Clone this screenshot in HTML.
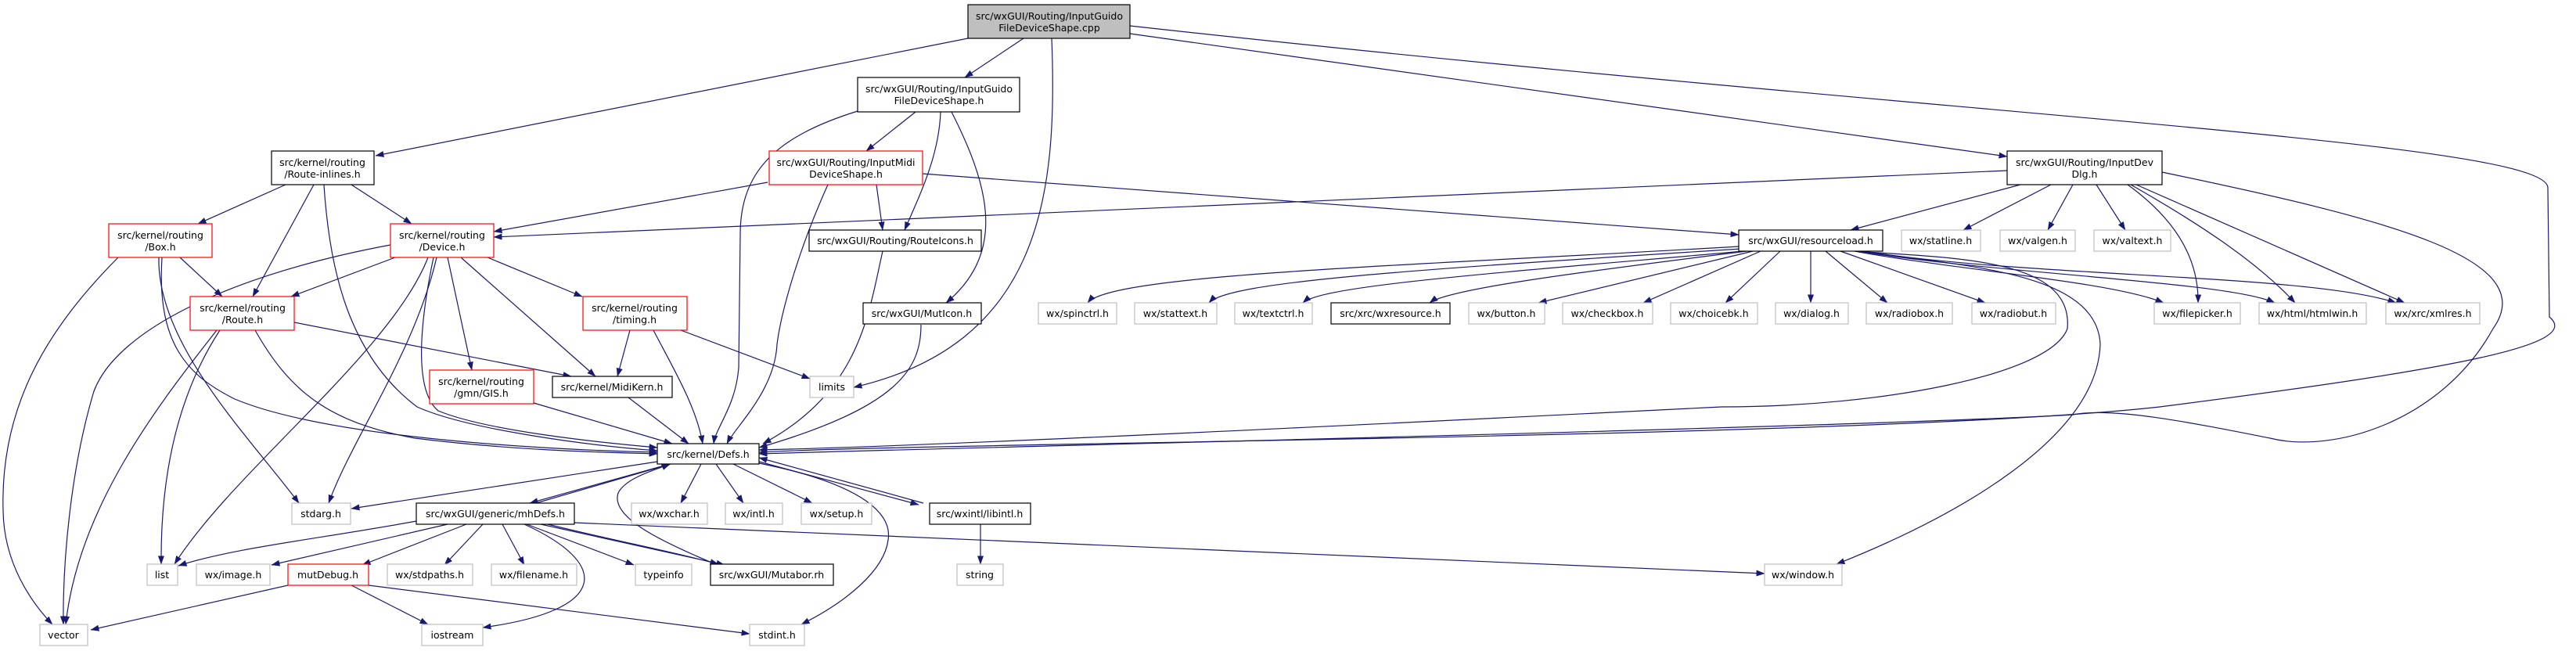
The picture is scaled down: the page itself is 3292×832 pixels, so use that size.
<!DOCTYPE html>
<html><head><meta charset="utf-8"><style>
html,body{margin:0;padding:0;background:#fff;}
svg{display:block;}
text{font-family:"DejaVu Sans","Liberation Sans",sans-serif;font-size:12.5px;fill:#000;text-anchor:middle;}
.e{fill:none;stroke:#191970;stroke-width:1.2;marker-end:url(#a);}
.n{fill:#fff;stroke:#000;stroke-width:1.2;}
.r{fill:#fff;stroke:#ff0000;stroke-width:1.2;}
.g{fill:#fff;stroke:#bfbfbf;stroke-width:1.2;}
</style></head><body>
<svg width="3292" height="832" viewBox="0 0 3292 832" xmlns="http://www.w3.org/2000/svg">
<defs><marker id="a" markerWidth="11" markerHeight="8" refX="10.5" refY="4" orient="auto" markerUnits="userSpaceOnUse"><path d="M0,0 L11,4 L0,8 z" fill="#191970"/></marker></defs>
<g>
<path class="e" d="M1237,49 L480,199"/>
<path class="e" d="M1308,49 L1233,99"/>
<path class="e" d="M1344,49 C1352,250 1330,440 1091,495"/>
<path class="e" d="M1444,43 L2565,200"/>
<path class="e" d="M1444,33 C2500,150 3256,180 3256,240 L3258,405 C3300,440 3150,470 2760,520 C2400,560 1200,565 970,578"/>
<path class="e" d="M1170,143 L1107,193"/>
<path class="e" d="M1202,143 C1200,200 1175,250 1156,294"/>
<path class="e" d="M1216,143 C1260,230 1290,320 1209,387"/>
<path class="e" d="M1096,142 C990,175 946,220 946,300 L944,470 C940,520 915,545 912,567"/>
<path class="e" d="M981,233 L631,296"/>
<path class="e" d="M1120,236 L1128,294"/>
<path class="e" d="M1179,222 L2222,300"/>
<path class="e" d="M1058,236 C1020,320 998,400 993,440 C990,500 940,545 929,567"/>
<path class="e" d="M365,236 L253,286"/>
<path class="e" d="M401,236 L323,379"/>
<path class="e" d="M449,236 L526,286"/>
<path class="e" d="M414,236 C420,330 440,450 533,520 C600,550 760,570 840,576"/>
<path class="e" d="M151,329 C60,420 0,520 4,653 C5,720 40,770 67,798"/>
<path class="e" d="M230,329 L284,379"/>
<path class="e" d="M203,329 C200,440 320,560 382,643"/>
<path class="e" d="M207,329 C200,440 240,480 300,510 C420,560 700,575 840,578"/>
<path class="e" d="M499,313 C300,350 150,420 120,500 C90,600 80,720 81,798"/>
<path class="e" d="M505,329 L372,379"/>
<path class="e" d="M623,329 L744,379"/>
<path class="e" d="M572,329 L603,473"/>
<path class="e" d="M589,329 L761,481"/>
<path class="e" d="M547,329 C500,450 300,600 223,721"/>
<path class="e" d="M558,329 C530,450 450,560 420,643"/>
<path class="e" d="M554,329 C535,420 530,500 560,525 C620,550 760,565 840,572"/>
<path class="e" d="M277,422 C200,520 100,650 84,798"/>
<path class="e" d="M281,422 C230,500 205,600 206,721"/>
<path class="e" d="M376,412 L730,481"/>
<path class="e" d="M326,422 C370,500 420,540 530,560 C650,575 760,578 840,580"/>
<path class="e" d="M805,422 L789,481"/>
<path class="e" d="M870,422 L1035,484"/>
<path class="e" d="M835,422 C860,470 890,520 898,567"/>
<path class="e" d="M682,515 L859,567"/>
<path class="e" d="M803,508 L880,567"/>
<path class="e" d="M1128,321 C1110,400 1100,500 975,567"/>
<path class="e" d="M1177,415 C1177,470 1150,520 970,572"/>
<path class="e" d="M840,590 L449,650"/>
<path class="e" d="M849,595 L677,643"/>
<path class="e" d="M685,643 L857,593"/>
<path class="e" d="M896,593 L870,643"/>
<path class="e" d="M915,593 L950,643"/>
<path class="e" d="M937,593 L1038,643"/>
<path class="e" d="M970,590 L1174,645"/>
<path class="e" d="M1180,643 L970,585"/>
<path class="e" d="M970,592 C1110,620 1140,660 1135,690 C1130,730 1080,770 1024,798"/>
<path class="e" d="M912,720 C840,690 780,660 790,630 C800,610 840,600 856,593"/>
<path class="e" d="M700,670 C780,690 860,705 918,721"/>
<path class="e" d="M532,666 C400,690 300,700 228,723"/>
<path class="e" d="M572,670 L347,722"/>
<path class="e" d="M596,670 L463,722"/>
<path class="e" d="M617,670 L568,722"/>
<path class="e" d="M642,670 L670,722"/>
<path class="e" d="M673,670 L810,722"/>
<path class="e" d="M691,670 L926,722"/>
<path class="e" d="M670,670 C780,720 780,780 617,802"/>
<path class="e" d="M734,668 L2255,733"/>
<path class="e" d="M368,748 L116,805"/>
<path class="e" d="M449,748 L547,798"/>
<path class="e" d="M471,748 L958,810"/>
<path class="e" d="M1253,670 L1253,721"/>
<path class="e" d="M2222,315 C1800,340 1420,350 1390,387"/>
<path class="e" d="M2225,318 C1800,345 1570,360 1545,387"/>
<path class="e" d="M2228,321 C1900,350 1690,365 1665,387"/>
<path class="e" d="M2232,321 C2000,350 1850,370 1827,387"/>
<path class="e" d="M2240,321 L1966,387"/>
<path class="e" d="M2250,321 L2100,387"/>
<path class="e" d="M2275,321 L2205,387"/>
<path class="e" d="M2314,321 L2314,387"/>
<path class="e" d="M2333,321 L2412,387"/>
<path class="e" d="M2352,321 L2537,387"/>
<path class="e" d="M2370,321 C2500,345 2700,360 2765,387"/>
<path class="e" d="M2375,321 C2550,350 2850,360 2907,387"/>
<path class="e" d="M2380,321 C2600,355 2950,350 3062,387"/>
<path class="e" d="M2380,321 C2500,340 2680,345 2684,440 C2680,560 2500,660 2347,721"/>
<path class="e" d="M2370,321 C2500,330 2650,330 2642,420 C2620,480 2400,520 2200,520 C1800,540 1200,570 970,575"/>
<path class="e" d="M2763,220 C3050,280 3250,330 3186,420 C3120,540 2980,580 2901,560 C2800,540 2700,520 2649,530 C2400,545 1300,570 970,580"/>
<path class="e" d="M2565,218 L631,303"/>
<path class="e" d="M2582,236 L2365,294"/>
<path class="e" d="M2621,236 L2509,294"/>
<path class="e" d="M2649,236 L2617,294"/>
<path class="e" d="M2679,236 L2716,294"/>
<path class="e" d="M2719,236 C2780,280 2810,330 2809,387"/>
<path class="e" d="M2723,236 C2800,280 2880,330 2933,387"/>
<path class="e" d="M2730,236 L3073,387"/>
</g>
<g>
<rect x="1237" y="6" width="207" height="43" fill="#bfbfbf" stroke="#000" stroke-width="1.2"/>
<text x="1341" y="25">src/wxGUI/Routing/InputGuido</text><text x="1341" y="40">FileDeviceShape.cpp</text>

<rect class="n" x="1096" y="99" width="207" height="44"/>
<text x="1200" y="118">src/wxGUI/Routing/InputGuido</text><text x="1200" y="133">FileDeviceShape.h</text>

<rect class="n" x="347" y="193" width="131" height="43"/>
<text x="412" y="212">src/kernel/routing</text><text x="412" y="227">/Route-inlines.h</text>

<rect class="r" x="983" y="193" width="196" height="43"/>
<text x="1081" y="212">src/wxGUI/Routing/InputMidi</text><text x="1081" y="227">DeviceShape.h</text>

<rect class="n" x="2565" y="193" width="198" height="43"/>
<text x="2664" y="212">src/wxGUI/Routing/InputDev</text><text x="2664" y="227">Dlg.h</text>

<rect class="r" x="139" y="286" width="132" height="43"/>
<text x="205" y="305">src/kernel/routing</text><text x="205" y="320">/Box.h</text>

<rect class="r" x="499" y="286" width="132" height="43"/>
<text x="565" y="305">src/kernel/routing</text><text x="565" y="320">/Device.h</text>

<rect class="n" x="1034" y="294" width="220" height="27"/><text x="1144" y="312">src/wxGUI/Routing/RouteIcons.h</text>
<rect class="n" x="2222" y="294" width="184" height="27"/><text x="2314" y="312">src/wxGUI/resourceload.h</text>
<rect class="g" x="2430" y="294" width="101" height="27"/><text x="2480" y="312">wx/statline.h</text>
<rect class="g" x="2556" y="294" width="96" height="27"/><text x="2604" y="312">wx/valgen.h</text>
<rect class="g" x="2676" y="294" width="98" height="27"/><text x="2725" y="312">wx/valtext.h</text>

<rect class="r" x="243" y="379" width="133" height="43"/>
<text x="310" y="398">src/kernel/routing</text><text x="310" y="413">/Route.h</text>
<rect class="r" x="745" y="379" width="133" height="43"/>
<text x="811" y="398">src/kernel/routing</text><text x="811" y="413">/timing.h</text>

<rect class="n" x="1103" y="387" width="151" height="27"/><text x="1178" y="405">src/wxGUI/MutIcon.h</text>
<rect class="g" x="1327" y="387" width="100" height="27"/><text x="1377" y="405">wx/spinctrl.h</text>
<rect class="g" x="1450" y="387" width="105" height="27"/><text x="1502" y="405">wx/stattext.h</text>
<rect class="g" x="1578" y="387" width="99" height="27"/><text x="1627" y="405">wx/textctrl.h</text>
<rect class="n" x="1701" y="387" width="152" height="27"/><text x="1777" y="405">src/xrc/wxresource.h</text>
<rect class="g" x="1877" y="387" width="97" height="27"/><text x="1925" y="405">wx/button.h</text>
<rect class="g" x="1997" y="387" width="115" height="27"/><text x="2054" y="405">wx/checkbox.h</text>
<rect class="g" x="2135" y="387" width="111" height="27"/><text x="2190" y="405">wx/choicebk.h</text>
<rect class="g" x="2269" y="387" width="93" height="27"/><text x="2315" y="405">wx/dialog.h</text>
<rect class="g" x="2385" y="387" width="110" height="27"/><text x="2440" y="405">wx/radiobox.h</text>
<rect class="g" x="2520" y="387" width="107" height="27"/><text x="2573" y="405">wx/radiobut.h</text>
<rect class="g" x="2753" y="387" width="110" height="27"/><text x="2808" y="405">wx/filepicker.h</text>
<rect class="g" x="2887" y="387" width="137" height="27"/><text x="2955" y="405">wx/html/htmlwin.h</text>
<rect class="g" x="3049" y="387" width="120" height="27"/><text x="3109" y="405">wx/xrc/xmlres.h</text>

<rect class="r" x="549" y="473" width="133" height="43"/>
<text x="615" y="492">src/kernel/routing</text><text x="615" y="507">/gmn/GIS.h</text>
<rect class="n" x="706" y="481" width="153" height="27"/><text x="782" y="499">src/kernel/MidiKern.h</text>
<rect class="g" x="1035" y="481" width="56" height="27"/><text x="1063" y="499">limits</text>

<rect class="n" x="840" y="567" width="130" height="26"/><text x="905" y="585">src/kernel/Defs.h</text>

<rect class="g" x="373" y="643" width="75" height="27"/><text x="410" y="661">stdarg.h</text>
<rect class="n" x="532" y="643" width="202" height="27"/><text x="633" y="661">src/wxGUI/generic/mhDefs.h</text>
<rect class="g" x="807" y="643" width="97" height="27"/><text x="855" y="661">wx/wxchar.h</text>
<rect class="g" x="927" y="643" width="73" height="27"/><text x="963" y="661">wx/intl.h</text>
<rect class="g" x="1024" y="643" width="90" height="27"/><text x="1069" y="661">wx/setup.h</text>
<rect class="n" x="1188" y="643" width="129" height="27"/><text x="1252" y="661">src/wxintl/libintl.h</text>

<rect class="g" x="188" y="721" width="39" height="27"/><text x="207" y="739">list</text>
<rect class="g" x="251" y="721" width="94" height="27"/><text x="298" y="739">wx/image.h</text>
<rect class="r" x="368" y="721" width="103" height="27"/><text x="419" y="739">mutDebug.h</text>
<rect class="g" x="495" y="721" width="109" height="27"/><text x="549" y="739">wx/stdpaths.h</text>
<rect class="g" x="628" y="721" width="109" height="27"/><text x="682" y="739">wx/filename.h</text>
<rect class="g" x="812" y="721" width="72" height="27"/><text x="848" y="739">typeinfo</text>
<rect class="n" x="908" y="721" width="157" height="27"/><text x="986" y="739">src/wxGUI/Mutabor.rh</text>
<rect class="g" x="1223" y="721" width="59" height="27"/><text x="1252" y="739">string</text>
<rect class="g" x="2255" y="721" width="99" height="27"/><text x="2304" y="739">wx/window.h</text>

<rect class="g" x="51" y="798" width="61" height="27"/><text x="81" y="816">vector</text>
<rect class="g" x="539" y="798" width="78" height="27"/><text x="578" y="816">iostream</text>
<rect class="g" x="958" y="798" width="70" height="27"/><text x="993" y="816">stdint.h</text>
</g>
</svg>
</body></html>
